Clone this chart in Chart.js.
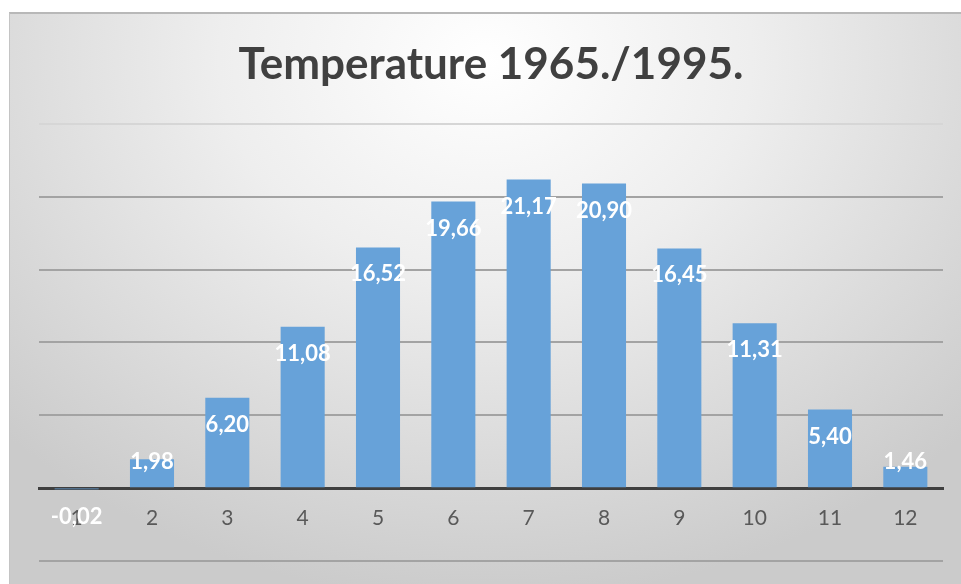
<!DOCTYPE html>
<html>
<head>
<meta charset="utf-8">
<script src="https://cdn.jsdelivr.net/npm/chart.js@4.4.1/dist/chart.umd.min.js"></script>
<style>
  html, body { margin: 0; padding: 0; background: #fff; }
  #panel {
    position: absolute; left: 9px; top: 12px; width: 952px; height: 572px;
    background: radial-gradient(ellipse 70% 95% at 50% 8%, #ffffff 0%, #eeeeee 40%, #cbcbcb 100%);
    border-top: 2px solid #b8b8b8; border-left: 1px solid #c4c4c4;
    box-sizing: border-box;
  }
  #graphCanvas { display: block; }
</style>
</head>
<body>
<div id="panel"><canvas id="graphCanvas" width="951" height="570"></canvas></div>
<script>
// monthly averages
const months = ['1', '2', '3', '4', '5', '6', '7', '8', '9', '10', '11', '12'];
const temps = [-0.02, 1.98, 6.20, 11.08, 16.52, 19.66, 21.17, 20.90, 16.45, 11.31, 5.40, 1.46];
const yTicks = [-5, 0, 5, 10, 15, 20, 25];

// value labels like excel "inside end"
const valueLabels = {
    id: 'valueLabels',
    afterDatasetsDraw(chart) {
        const ctx = chart.ctx;
        const zero = chart.scales.y.getPixelForValue(0);
        const meta = chart.getDatasetMeta(0);
        ctx.save();
        ctx.font = 'bold 22px Lato';
        ctx.fillStyle = '#ffffff';
        ctx.textAlign = 'center';
        ctx.textBaseline = 'middle';
        meta.data.forEach((bar, i) => {
            let v = temps[i];
            let y;
            if (v >= 0) y = Math.min(bar.y + 27, zero - 26);
            else y = Math.max(bar.y + 27, zero + 29);
            ctx.fillText(v.toFixed(2).replace('.', ','), bar.x, y);
        });
        ctx.restore();
    }
};

new Chart(document.getElementById('graphCanvas'), {
    type: 'bar',
    data: {
        labels: months,
        datasets: [{
            label: 'Temperature',
            data: temps,
            backgroundColor: '#67a2d9',
            borderWidth: 0,
            barPercentage: 0.585,
            categoryPercentage: 1
        }]
    },
    options: {
        responsive: false,
        animation: false,
        layout: { padding: { left: 29, right: 18, bottom: 23, top: 0 } },
        plugins: {
            legend: { display: false },
            tooltip: { enabled: false },
            title: {
                display: true,
                text: 'Temperature 1965./1995.',
                color: '#404040',
                font: { family: 'Lato', size: 44, weight: 'bold' },
                padding: { top: 24, bottom: 33 }
            }
        },
        scales: {
            x: {
                position: { y: 0 },
                grid: { display: false, drawTicks: false },
                border: { display: true, color: '#3f3f3f', width: 3 },
                ticks: { color: '#595959', font: { family: 'Lato', size: 21 }, padding: 18 }
            },
            y: {
                min: -5,
                max: 25,
                afterBuildTicks: (axis) => { axis.ticks = yTicks.map(v => ({ value: v })); },
                ticks: { display: false },
                border: { display: false },
                grid: {
                    drawTicks: false,
                    lineWidth: 2,
                    color: (c) => c.tick.value === 25 ? '#d6d6d6' : (c.tick.value === 0 ? 'rgba(0,0,0,0)' : '#a3a3a3')
                }
            }
        }
    },
    plugins: [valueLabels]
});
</script>
</body>
</html>
